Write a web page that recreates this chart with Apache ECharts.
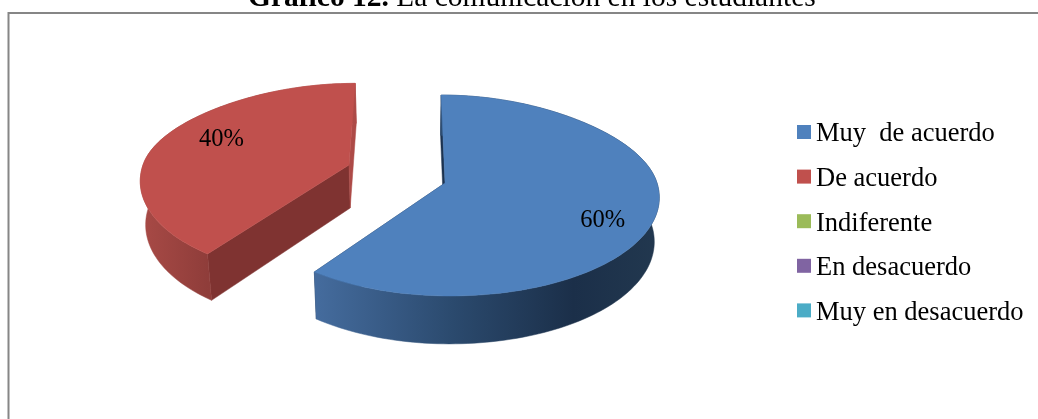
<!DOCTYPE html>
<html><head><meta charset="utf-8">
<style>html,body{margin:0;padding:0;background:#fff}#c{width:1038px;height:419px}</style>
<script src="https://cdn.jsdelivr.net/npm/echarts@6/dist/echarts.min.js"></script>
</head><body><div id="c"></div>
<script>
const categories = ['Muy  de acuerdo','De acuerdo','Indiferente','En desacuerdo','Muy en desacuerdo'];
const values = [60, 40, 0, 0, 0];
const colors = ['#4f81bd','#c0504d','#9bbb59','#8064a2','#4bacc6'];
const titleBold = 'Gráfico 12.';
const titleRest = ' La comunicación en los estudiantes';

const FONT = '"Liberation Serif","Times New Roman",serif';
const total = values.reduce((a,b)=>a+b,0);
// projection of the tilted pie
const P = {cx:397, cy:174, aR:212, aL:206, b:98.9, k:0.1244, vx:410, explodeX:50.5, explodeY:29.1, ringScale:0.98,
           squeeze:0.02, backLeftY:0.92};
// per-slice look
const look = [
  {cutStart:'#1c3350', cutEnd:'#1c3350',
   wall:{x:314,x2:660,stops:[[0,'#456c9e'],[0.4,'#2b4a6e'],[0.75,'#1b2f49'],[1,'#22384f']]},
   nudge:[1,14]},
  {cutStart:'#7f3331', cutEnd:'#ad4a47',
   wall:{x:141,x2:356,stops:[[0,'#a84a46'],[0.31,'#8f3d3a'],[0.6,'#a04542'],[1,'#ad4a47']]},
   nudge:[13,-5]}
];

function project(ox, oy, deg, r){
  const t = deg*Math.PI/180;
  let x = r*Math.sin(t), y = -r*Math.cos(t);
  if(y<0){
    const s = Math.sin(2*t), f = 1-P.squeeze*s*s;
    x*=f; y*=f;
    if(x<-1e-6) y*=P.backLeftY;
  }
  const w = 1-P.k*y, a = x<0 ? P.aL : P.aR;
  return [P.vx+(ox-P.vx+a*x)/w, oy+P.b*y/w];
}
function ring(pt){
  return [P.vx+(pt[0]-P.vx)*P.ringScale, pt[1]+36.7+0.038*pt[1]];
}
function arc(ox, oy, a0, a1){
  const pts=[], n=Math.max(2,Math.ceil((a1-a0)/1.5));
  for(let i=0;i<=n;i++) pts.push(project(ox,oy,a0+(a1-a0)*i/n-(i===n&&a1===360?0.01:0),1));
  return pts;
}
function renderItem(params, api){
  const i = params.seriesIndex, v = api.value(0);
  if(!v) return null;
  let before = 0; for(let j=0;j<i;j++) before += values[j];
  const a0 = before/total*360, a1 = (before+v)/total*360, mid = (a0+a1)/2, t = mid*Math.PI/180;
  const ox = P.cx + P.explodeX*Math.sin(t), oy = P.cy - P.explodeY*Math.cos(t);
  const top = arc(ox,oy,a0,a1), L = look[i], apex=[ox,oy];
  const first = top[0], last = top[top.length-1];
  const face = (pts,fill)=>({type:'polygon',silent:true,shape:{points:pts},style:{fill,stroke:fill,lineWidth:0.5}});
  const grad = {type:'linear',x:L.wall.x,y:0,x2:L.wall.x2,y2:0,global:true,
    colorStops:L.wall.stops.map(s=>({offset:s[0],color:s[1]}))};
  const lab = project(ox,oy,mid,0.75);
  return {type:'group',children:[
    face([apex,first,ring(first),ring(apex)],L.cutStart),
    face([apex,last,ring(last),ring(apex)],L.cutEnd),
    face(top.concat(top.slice().reverse().map(ring)),grad),
    face([apex].concat(top),colors[i]),
    {type:'text',silent:true,style:{text:Math.round(v/total*100)+'%',x:lab[0]+L.nudge[0],y:lab[1]+L.nudge[1],
      align:'center',verticalAlign:'middle',fill:'#000',font:'24.5px '+FONT}}
  ]};
}
const chart = echarts.init(document.getElementById('c'),null,{renderer:'canvas'});
chart.setOption({
  animation:false,
  backgroundColor:'#fff',
  title:{left:248,top:-17,padding:0,
    text:'{b|'+titleBold+'}{r|'+titleRest+'}',
    textStyle:{rich:{b:{fontFamily:FONT,fontSize:29.5,fontWeight:'bold',color:'#000'},r:{fontFamily:FONT,fontSize:29.5,fontWeight:'normal',color:'#000'}}}},
  legend:{orient:'vertical',left:797,top:121,padding:0,itemWidth:14,itemHeight:14,itemGap:17.6,icon:'rect',
    data:categories,selectedMode:false,
    formatter:n=>'{t|'+n+'}{s| }',
    textStyle:{rich:{t:{fontFamily:FONT,fontSize:26.5,color:'#000',lineHeight:27,verticalAlign:'bottom'},
                     s:{fontFamily:FONT,fontSize:1,lineHeight:32}}}},
  graphic:[{type:'polyline',silent:true,shape:{points:[[8.5,419],[8.5,13],[1040,13]]},style:{fill:null,stroke:'#868686',lineWidth:2}}],
  series:categories.map((name,i)=>({type:'custom',name,coordinateSystem:'none',
    itemStyle:{color:colors[i]},data:[[values[i]]],renderItem}))
});
</script></body></html>
